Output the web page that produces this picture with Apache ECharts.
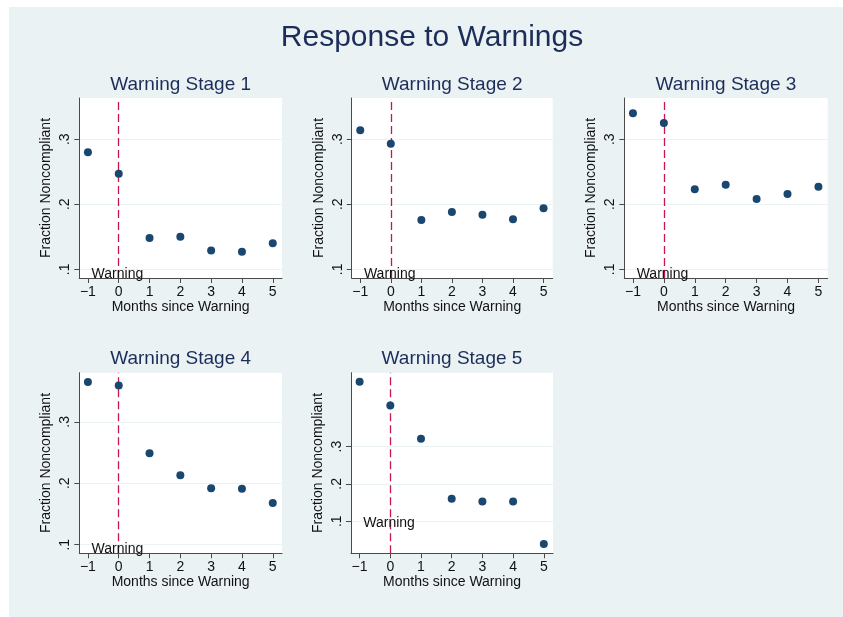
<!DOCTYPE html>
<html>
<head>
<meta charset="utf-8">
<script src="https://cdn.jsdelivr.net/npm/echarts@6/dist/echarts.min.js"></script>
<style>
  html, body { margin: 0; padding: 0; background: #ffffff; }
  #chart { position: absolute; left: 9px; top: 7px; width: 834px; height: 610px; background: #EAF2F3; }
</style>
</head>
<body>
<div id="chart"></div>
<script>
// ---- data ----
const months = [-1, 0, 1, 2, 3, 4, 5];
const stage1 = [0.280, 0.247, 0.148, 0.150, 0.129, 0.127, 0.140];
const stage2 = [0.314, 0.293, 0.176, 0.188, 0.184, 0.177, 0.194];
const stage3 = [0.340, 0.325, 0.223, 0.230, 0.208, 0.216, 0.227];
const stage4 = [0.365, 0.359, 0.249, 0.213, 0.192, 0.191, 0.168];
const stage5 = [0.474, 0.410, 0.321, 0.160, 0.153, 0.153, 0.039];
const yTicks = [0.1, 0.2, 0.3];
const panelTitles = ['Warning Stage 1', 'Warning Stage 2', 'Warning Stage 3', 'Warning Stage 4', 'Warning Stage 5'];
const mainTitle = 'Response to Warnings';
const xName = 'Months since Warning';
const yName = 'Fraction Noncompliant';
const warningLabel = 'Warning';

// ---- layout (page coords minus chart offset 9,7) ----
const OX = 9, OY = 7;
const panels = [
  { l: 79.3, r: 282, t: 98, b: 278, ymin: 0.0866, ymax: 0.3635, wy: 0.092 },
  { l: 351.7, r: 552.7, t: 98, b: 278, ymin: 0.0866, ymax: 0.3635, wy: 0.092 },
  { l: 624.3, r: 827.7, t: 98, b: 278, ymin: 0.0866, ymax: 0.3635, wy: 0.092 },
  { l: 79.3, r: 282, t: 372.7, b: 553.3, ymin: 0.086, ymax: 0.380, wy: 0.092 },
  { l: 351, r: 553, t: 372.7, b: 553.3, ymin: 0.014, ymax: 0.498, wy: 0.095 }
];
const seriesData = [stage1, stage2, stage3, stage4, stage5];

const FONT = '"Liberation Sans", Arial, sans-serif';
const axisColor = '#4a4a4a';
const navy = '#1A476F';
const titleColor = '#1c2d5a';

const chart = echarts.init(document.getElementById('chart'), null, { renderer: 'canvas' });

const grids = [], xAxes = [], yAxes = [], series = [], titles = [];
titles.push({
  text: mainTitle, left: 432 - OX, top: 23 - OY, textAlign: 'center', padding: 0,
  textStyle: { fontFamily: FONT, fontSize: 30, fontWeight: 'normal', color: titleColor }
});

panels.forEach((p, i) => {
  grids.push({
    left: p.l - OX, top: p.t - OY, width: p.r - p.l, height: p.b - p.t,
    show: true, backgroundColor: '#ffffff', borderWidth: 0, containLabel: false
  });
  titles.push({
    text: panelTitles[i], left: (p.l + p.r) / 2 - OX, top: p.t - 23 - OY, textAlign: 'center', padding: 0,
    textStyle: { fontFamily: FONT, fontSize: 19, fontWeight: 'normal', color: titleColor }
  });
  xAxes.push({
    type: 'value', gridIndex: i, min: -1.28, max: 5.3,
    name: xName, nameLocation: 'middle', nameGap: 22,
    nameTextStyle: { fontFamily: FONT, fontSize: 14, color: '#111' },
    axisLine: { show: true, onZero: false, lineStyle: { color: axisColor, width: 1 } },
    axisTick: { show: true, inside: false, length: 5, customValues: months, lineStyle: { color: axisColor } },
    axisLabel: {
      show: true, customValues: months, margin: 7,
      fontFamily: FONT, fontSize: 14, color: '#111',
      formatter: v => (v < 0 ? '\u2212' + Math.abs(v) : String(v))
    },
    splitLine: { show: false }
  });
  yAxes.push({
    type: 'value', gridIndex: i, min: p.ymin, max: p.ymax,
    name: yName, nameLocation: 'middle', nameGap: 26, nameRotate: 90,
    nameTextStyle: { fontFamily: FONT, fontSize: 14, color: '#111' },
    axisLine: { show: true, onZero: false, lineStyle: { color: axisColor, width: 1 } },
    axisTick: { show: true, inside: false, length: 5, customValues: yTicks, lineStyle: { color: axisColor } },
    axisLabel: {
      show: true, customValues: yTicks, rotate: 90, margin: 7,
      fontFamily: FONT, fontSize: 14, color: '#111',
      formatter: v => v.toFixed(1).replace(/^0/, '')
    },
    splitLine: { show: true, lineStyle: { color: '#EAF2F3', width: 1 } }
  });
  series.push({
    type: 'scatter', xAxisIndex: i, yAxisIndex: i,
    data: months.map((m, k) => [m, seriesData[i][k]]),
    symbol: 'circle', symbolSize: 8,
    itemStyle: { color: navy, opacity: 1 },
    silent: true,
    z: 5,
    markLine: {
      silent: true, symbol: ['none', 'none'],
      label: { show: false },
      lineStyle: { color: '#C8174A', width: 1.3, type: [8, 4], opacity: 1 },
      emphasis: { disabled: true },
      data: [{ xAxis: 0 }]
    },
    markPoint: {
      silent: true, symbol: 'circle', symbolSize: 0,
      label: {
        show: true, position: 'right', distance: 0, formatter: warningLabel,
        fontFamily: FONT, fontSize: 14, color: '#111'
      },
      data: [{ coord: [-0.88, p.wy] }]
    }
  });
});

chart.setOption({
  backgroundColor: '#EAF2F3',
  animation: false,
  title: titles,
  grid: grids,
  xAxis: xAxes,
  yAxis: yAxes,
  series: series
});
</script>
</body>
</html>
